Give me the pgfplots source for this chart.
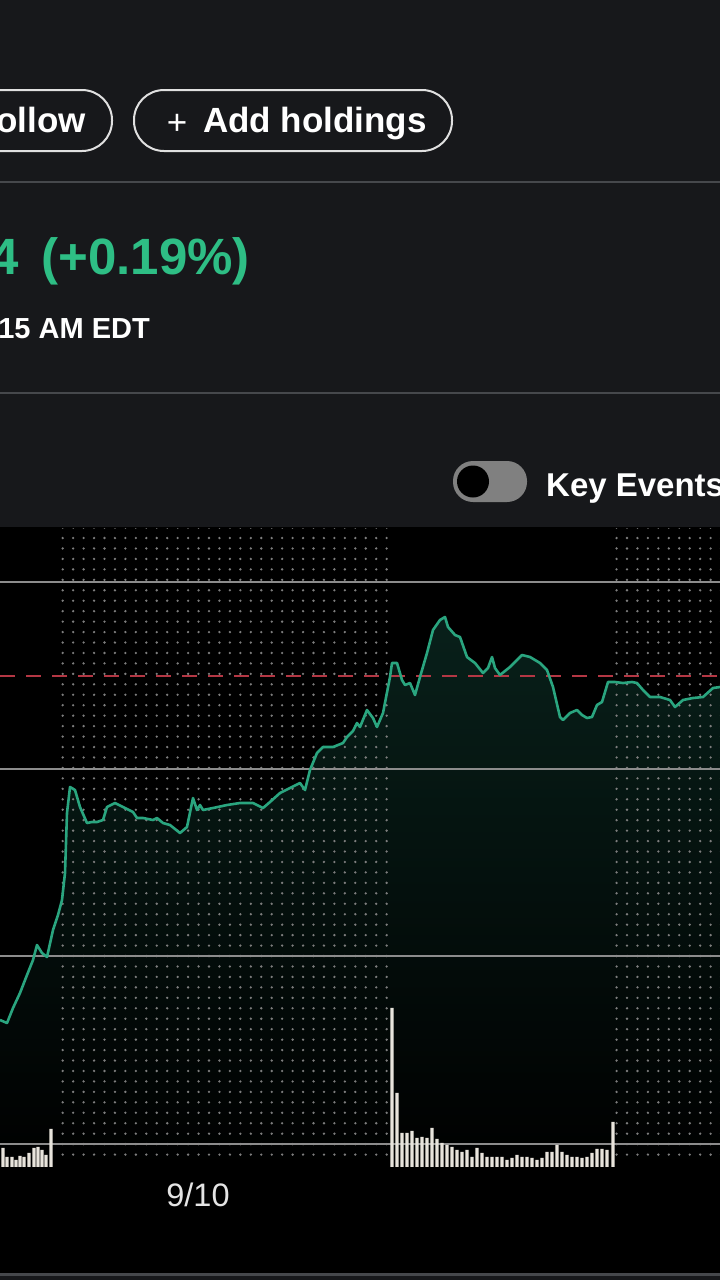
\documentclass[border=0pt]{standalone}
\usepackage{fontspec}
\setmainfont{Liberation Sans}
\usepackage{pgfplots}
\usepackage{pgfplotstable}
\pgfplotsset{compat=1.18}
\usetikzlibrary{patterns.meta}
\definecolor{topbg}{RGB}{23,24,27}
\definecolor{divider}{RGB}{70,72,76}
\definecolor{upgreen}{RGB}{46,190,133}
\definecolor{linegreen}{RGB}{42,165,127}
\definecolor{fillteal}{RGB}{8,32,26}
\definecolor{gridgray}{RGB}{140,140,140}
\definecolor{dotgray}{RGB}{125,125,125}
\definecolor{prevclose}{RGB}{180,55,68}
\definecolor{volbar}{RGB}{232,228,220}
\definecolor{labelgray}{RGB}{228,228,228}
\definecolor{togglegray}{RGB}{128,128,128}

\pgfplotstableread{
x y
0 1020
7 1023
13 1008
20 993
27 975
33 960
37 945
42 953
47 957
53 930
58 915
62 900
65 873
67 813
70 787
75 790
80 807
87 823
92 822
97 822
103 820
107 807
115 803
123 807
133 812
137 818
143 818
153 820
157 818
163 823
170 825
180 833
187 827
193 798
197 810
200 805
203 810
213 808
227 805
240 803
253 803
263 808
270 802
280 793
290 788
300 783
305 790
310 770
317 753
323 747
333 747
343 743
347 737
353 731
357 723
360 727
367 710
373 718
377 727
383 713
390 677
392 663
397 663
402 680
405 685
410 683
415 695
420 677
427 653
433 630
440 620
445 617
448 627
455 635
460 637
467 657
475 663
483 673
488 668
492 657
495 668
500 675
510 667
522 655
530 657
540 663
547 670
553 687
560 717
563 720
570 713
577 710
582 715
587 718
592 717
597 705
602 702
608 682
615 682
623 683
632 682
637 683
643 690
650 697
660 697
670 700
675 707
683 700
693 698
703 697
713 688
720 687
}\price

\pgfplotstableread{
x v
3 19
7 10
12 10
16 7
20 11
24 10
29 14
34 19
38 20
42 17
46 12
51 38
392 159
397 74
402 34
407 34
412 36
417 29
422 30
427 29
432 39
437 28
442 24
447 22
452 20
457 17
462 15
467 17
472 10
477 19
482 14
487 10
492 10
497 10
502 10
507 7
512 9
517 12
522 10
527 10
532 9
537 7
542 9
547 15
552 15
557 22
562 15
567 12
572 10
577 10
582 9
587 10
592 14
597 18
602 18
607 17
613 45
}\volume

\begin{document}
\begin{tikzpicture}
\begin{axis}[at={(0,0)}, anchor=south west, width=720pt, height=1280pt,
  scale only axis, xmin=0, xmax=720, ymin=0, ymax=1280, y dir=reverse,
  hide axis, clip=true, no markers]
% backgrounds
\fill[topbg] (axis cs:0,0) rectangle (axis cs:720,527);
\fill[black] (axis cs:0,527) rectangle (axis cs:720,1273);
\fill[divider] (axis cs:0,1273) rectangle (axis cs:720,1276);
\fill[topbg] (axis cs:0,1276) rectangle (axis cs:720,1280);
\draw[divider, line width=2pt] (axis cs:0,182) -- (axis cs:720,182);
\draw[divider, line width=2pt] (axis cs:0,393) -- (axis cs:720,393);
% buttons
\draw[white!88!black, line width=2pt, rounded corners=30pt] (axis cs:-80,90) rectangle (axis cs:112,151);
\draw[white!88!black, line width=2pt, rounded corners=30pt] (axis cs:134,90) rectangle (axis cs:452,151);
\node[anchor=base east, inner sep=0, text=white, font=\fontsize{35}{40}\selectfont\bfseries] at (axis cs:86,132) {ollow};
\node[anchor=base, inner sep=0, text=white, font=\fontsize{35}{40}\selectfont] at (axis cs:177,134) {+};
\node[anchor=base west, inner sep=0, text=white, font=\fontsize{35}{40}\selectfont\bfseries] at (axis cs:203,132) {Add holdings};
% quote
\node[anchor=base east, inner sep=0, text=upgreen, font=\fontsize{51}{60}\selectfont\bfseries] at (axis cs:19,274) {4};
\node[anchor=base east, inner sep=0, text=upgreen, font=\fontsize{51}{60}\selectfont\bfseries] at (axis cs:250,274) {(+0.19\%)};
\node[anchor=base east, inner sep=0, text=white, font=\fontsize{29}{34}\selectfont\bfseries] at (axis cs:150,338) {15 AM EDT};
% toggle
\fill[togglegray, rounded corners=20pt] (axis cs:453,461) rectangle (axis cs:527,502);
\fill[black] (axis cs:473,481.5) circle[radius=16pt];
\node[anchor=base west, inner sep=0, text=white, font=\fontsize{33}{38}\selectfont\bfseries] at (axis cs:546,496) {Key Events};
% area under price
\addplot[draw=none, top color=fillteal, bottom color=black] table[x=x, y=y] {\price} -- (axis cs:720,1167) -- (axis cs:0,1167) -- cycle;
% dotted (extended hours) regions
\fill[pattern={Dots[distance=10.45pt, radius=1.3pt]}, pattern color=dotgray] (axis cs:60,528) rectangle (axis cs:390,1162);
\fill[pattern={Dots[distance=10.45pt, radius=1.3pt]}, pattern color=dotgray] (axis cs:615,528) rectangle (axis cs:720,1162);
% grid lines
\draw[gridgray, line width=1.6pt] (axis cs:0,582) -- (axis cs:720,582);
\draw[gridgray, line width=1.6pt] (axis cs:0,769) -- (axis cs:720,769);
\draw[gridgray, line width=1.6pt] (axis cs:0,956) -- (axis cs:720,956);
\draw[gridgray, line width=1.6pt] (axis cs:0,1144) -- (axis cs:720,1144);
% previous close
\draw[prevclose, line width=2.2pt, dash pattern=on 15pt off 11pt] (axis cs:0,676) -- (axis cs:720,676);
% price line
\addplot[linegreen, line width=2.6pt, line join=round] table[x=x, y=y] {\price};
% date label
\node[anchor=base, inner sep=0, text=labelgray, font=\fontsize{32.5}{36}\selectfont] at (axis cs:198,1206) {9/10};
\end{axis}
\begin{axis}[at={(0,113pt)}, anchor=south west, width=720pt, height=200pt,
  scale only axis, xmin=0, xmax=720, ymin=0, ymax=200, hide axis, clip=false]
\addplot[ybar, bar width=3.2pt, fill=volbar, draw=none] table[x=x, y=v] {\volume};
\end{axis}
\end{tikzpicture}
\end{document}
